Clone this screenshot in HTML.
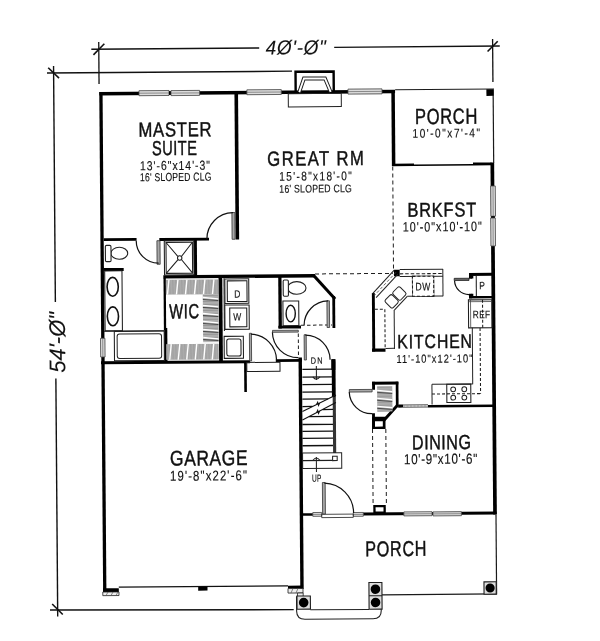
<!DOCTYPE html>
<html><head><meta charset="utf-8"><title>Floor plan</title>
<style>html,body{margin:0;padding:0;background:#fff;width:600px;height:641px;overflow:hidden}
svg{display:block;filter:grayscale(1);font-family:"Liberation Sans",sans-serif}</style></head>
<body><svg width="600" height="641" viewBox="0 0 600 641"><rect width="600" height="641" fill="#fff"/><g transform="rotate(-0.4412 300 320)" font-family="Liberation Sans, sans-serif"><g transform="translate(2.09 -0.96)"><line x1="91.3" y1="48.6" x2="259.2" y2="48.6" stroke="#111" stroke-width="1.4" stroke-linecap="butt"/></g><g transform="translate(2.10 0.90)"><line x1="334.2" y1="46.7" x2="499.75" y2="46.7" stroke="#111" stroke-width="1.4" stroke-linecap="butt"/></g><g transform="translate(1.98 -1.55)"><line x1="98.9" y1="42" x2="98.9" y2="84" stroke="#111" stroke-width="1.3" stroke-linecap="butt"/></g><g transform="translate(2.00 1.48)"><line x1="492.75" y1="39" x2="492.75" y2="82" stroke="#111" stroke-width="1.3" stroke-linecap="butt"/></g><g transform="translate(2.08 -1.55)"><line x1="93.4" y1="54.8" x2="104.4" y2="43.8" stroke="#111" stroke-width="1.6" stroke-linecap="butt"/></g><g transform="translate(2.11 1.48)"><line x1="487.5" y1="51.5" x2="497.75" y2="41.25" stroke="#111" stroke-width="1.6" stroke-linecap="butt"/></g><g transform="translate(2.10 -0.03)"><g transform="translate(265.8 54.2) scale(0.95 1)"><text x="0" y="0" font-size="19.91" font-weight="normal" font-style="italic" textLength="63.16" lengthAdjust="spacing" fill="#111" stroke="#111" stroke-width="0.1">4&#216;'-&#216;"</text></g></g><g transform="translate(1.91 -1.00)"><line x1="47" y1="72.1" x2="292" y2="72.1" stroke="#111" stroke-width="1.4" stroke-linecap="butt"/></g><g transform="translate(1.05 -1.89)"><line x1="54.47" y1="66" x2="54.47" y2="302" stroke="#111" stroke-width="1.4" stroke-linecap="butt"/></g><g transform="translate(-1.37 -1.87)"><line x1="56.8" y1="378.4" x2="56.8" y2="616.5" stroke="#111" stroke-width="1.4" stroke-linecap="butt"/></g><g transform="translate(1.90 -1.90)"><line x1="48.25" y1="67.75" x2="59" y2="78.25" stroke="#111" stroke-width="1.6" stroke-linecap="butt"/></g><g transform="translate(-2.23 -1.87)"><line x1="52.25" y1="604" x2="62.75" y2="614.5" stroke="#111" stroke-width="1.6" stroke-linecap="butt"/></g><g transform="translate(-2.23 -0.99)"><line x1="50" y1="609" x2="293.7" y2="610.6" stroke="#111" stroke-width="1.4" stroke-linecap="butt"/></g><g transform="translate(-0.17 -1.87)"><text transform="translate(65 372.8) rotate(-90)" x="0" y="0" font-size="22.53" font-style="italic" textLength="60.8" lengthAdjust="spacingAndGlyphs" fill="#111" stroke="#111" stroke-width="0.1">54'-&#216;"</text></g><g transform="translate(1.75 -0.41)"><rect x="99.4" y="90.8" width="295.7" height="3.6" fill="#000"/></g><g transform="translate(-0.17 -1.52)"><rect x="101.2" y="92" width="3.3" height="500" fill="#000"/></g><g transform="translate(1.19 -0.49)"><rect x="235" y="92" width="3.6" height="147.5" fill="#000"/></g><g transform="translate(0.62 -1.38)"><rect x="103.7" y="238" width="32.9" height="2.8" fill="#000"/></g><g transform="translate(0.62 -0.89)"><rect x="159.3" y="237.9" width="49.7" height="2.8" fill="#000"/></g><g transform="translate(0.48 -0.81)"><rect x="193.9" y="238" width="3.1" height="38.5" fill="#000"/></g><g transform="translate(0.34 -0.47)"><rect x="163.3" y="274.6" width="151.7" height="3.4" fill="#000"/></g><g transform="translate(0.25 0.19)"><line x1="314.5" y1="276.2" x2="334" y2="298" stroke="#000" stroke-width="3" stroke-linecap="square"/></g><g transform="translate(0.06 0.26)"><rect x="332.4" y="296" width="2.8" height="32" fill="#000"/></g><g transform="translate(0.14 -0.15)"><rect x="278.4" y="275.5" width="3.3" height="53" fill="#000"/></g><g transform="translate(-0.05 -0.08)"><rect x="278.4" y="325.7" width="22.6" height="2.8" fill="#000"/></g><g transform="translate(0.12 -1.04)"><rect x="163.7" y="278" width="2.3" height="52" fill="#000"/></g><g transform="translate(-0.19 -1.03)"><rect x="164.3" y="328" width="3.1" height="34" fill="#000"/></g><g transform="translate(0.00 -0.61)"><rect x="218.8" y="277" width="3.8" height="85" fill="#000"/></g><g transform="translate(-0.33 -0.96)"><rect x="101" y="360.8" width="149" height="2.9" fill="#000"/></g><g transform="translate(-0.31 -0.09)"><rect x="275.8" y="359.2" width="26.2" height="2.6" fill="#000"/></g><g transform="translate(-0.44 -0.42)"><rect x="244.2" y="361.5" width="2.6" height="30.5" fill="#000"/></g><g transform="translate(-1.18 0.01)"><rect x="299.4" y="357.5" width="3.4" height="231.5" fill="#000"/></g><g transform="translate(-2.08 -1.46)"><rect x="103" y="588.2" width="15.8" height="3.8" fill="#000"/></g><g transform="translate(-2.06 -0.03)"><rect x="288" y="585.6" width="15" height="2.9" fill="#000"/></g><g transform="translate(-0.34 0.26)"><rect x="331.3" y="359.2" width="4" height="10.8" fill="#000"/></g><g transform="translate(1.48 0.72)"><rect x="391.6" y="90" width="3.5" height="76" fill="#000"/></g><g transform="translate(1.19 0.80)"><rect x="392.6" y="163.6" width="21.4" height="2.6" fill="#000"/></g><g transform="translate(1.19 1.10)"><rect x="414" y="164.2" width="59" height="1.5" fill="#000"/></g><g transform="translate(1.20 1.40)"><rect x="473" y="162.5" width="18.5" height="2.9" fill="#000"/></g><g transform="translate(-0.14 1.49)"><rect x="491.8" y="162.5" width="3.7" height="352" fill="#000"/></g><g transform="translate(0.35 1.39)"><rect x="469" y="272.9" width="23.5" height="2.9" fill="#000"/></g><g transform="translate(0.34 1.31)"><rect x="469" y="272.9" width="3" height="5.9" fill="#000"/></g><g transform="translate(0.33 1.33)"><rect x="471.5" y="275.5" width="1.8" height="2.9" fill="#000"/></g><g transform="translate(0.18 1.31)"><rect x="469" y="293.8" width="3" height="4.5" fill="#000"/></g><g transform="translate(0.19 1.33)"><rect x="471.5" y="293.8" width="1.8" height="2.5" fill="#000"/></g><g transform="translate(0.18 1.39)"><rect x="469" y="296" width="23.5" height="2.3" fill="#000"/></g><g transform="translate(-0.02 0.57)"><rect x="372.1" y="293" width="2.9" height="58.5" fill="#000"/></g><g transform="translate(-0.23 0.61)"><rect x="372" y="348.5" width="13.5" height="3.3" fill="#000"/></g><g transform="translate(0.36 0.75)"><rect x="394" y="269.8" width="5.7" height="6.4" fill="#000"/></g><g transform="translate(-0.49 0.66)"><rect x="372.1" y="381.7" width="26.2" height="2.9" fill="#000"/></g><g transform="translate(-0.57 0.75)"><rect x="395.8" y="381.7" width="2.7" height="25.6" fill="#000"/></g><g transform="translate(-0.51 0.57)"><rect x="372.1" y="381.7" width="2.9" height="8.1" fill="#000"/></g><g transform="translate(-0.78 0.57)"><rect x="372.1" y="413.2" width="2.9" height="15.8" fill="#000"/></g><g transform="translate(-0.71 0.70)"><line x1="397" y1="405.8" x2="384.5" y2="419.5" stroke="#000" stroke-width="3" stroke-linecap="square"/></g><g transform="translate(-0.76 0.62)"><rect x="375" y="416.7" width="10.5" height="2.9" fill="#000"/></g><g transform="translate(-0.79 0.61)"><rect x="372.1" y="417" width="13.4" height="12" fill="#000"/></g><g transform="translate(-0.80 0.61)"><rect x="375" y="421.3" width="7.8" height="5.3" fill="#fff"/></g><g transform="translate(-0.66 0.78)"><rect x="398.3" y="404.4" width="4.7" height="3.2" fill="#000"/></g><g transform="translate(-0.66 1.24)"><rect x="428" y="404.7" width="67" height="2.6" fill="#000"/></g><g transform="translate(-0.65 0.89)"><line x1="403" y1="404.9" x2="428" y2="404.9" stroke="#1e1e1e" stroke-width="0.8" stroke-linecap="butt"/></g><g transform="translate(-0.67 0.89)"><line x1="403" y1="407.1" x2="428" y2="407.1" stroke="#1e1e1e" stroke-width="0.8" stroke-linecap="butt"/></g><g transform="translate(-0.66 0.89)"><line x1="403" y1="406" x2="428" y2="406" stroke="#777" stroke-width="0.6" stroke-linecap="butt" stroke-dasharray="2 1.5"/></g><g transform="translate(-1.49 1.00)"><rect x="363" y="511.9" width="133.5" height="3.1" fill="#000"/></g><g transform="translate(-1.50 0.06)"><rect x="302.5" y="513.2" width="10.5" height="2.6" fill="#000"/></g><g transform="translate(-1.46 0.61)"><rect x="373.3" y="505" width="12.5" height="8" fill="#000"/></g><g transform="translate(-1.46 0.61)"><rect x="375.6" y="507.2" width="7.9" height="4.3" fill="#fff"/></g><g transform="translate(1.75 -1.12)"><rect x="139" y="90.6" width="30" height="5" fill="#dcdcdc" stroke="#444" stroke-width="0.8"/><line x1="139" y1="93.1" x2="169" y2="93.1" stroke="#666" stroke-width="0.7"/></g><g transform="translate(1.75 -1.00)"><rect x="169" y="91.2" width="2" height="3.5" fill="#000"/></g><g transform="translate(1.75 -0.88)"><rect x="171" y="90.5" width="28.6" height="5" fill="#dcdcdc" stroke="#444" stroke-width="0.8"/><line x1="171" y1="93" x2="199.6" y2="93" stroke="#666" stroke-width="0.7"/></g><g transform="translate(1.75 -0.28)"><rect x="246.9" y="89.7" width="34.4" height="4.9" fill="#dcdcdc" stroke="#444" stroke-width="0.8"/><line x1="246.9" y1="92.15" x2="281.3" y2="92.15" stroke="#666" stroke-width="0.7"/></g><g transform="translate(1.76 0.50)"><rect x="348" y="89" width="34" height="5" fill="#dcdcdc" stroke="#444" stroke-width="0.8"/><line x1="348" y1="91.5" x2="382" y2="91.5" stroke="#666" stroke-width="0.7"/></g><g transform="translate(0.92 1.49)"><rect x="490.8" y="186" width="4.6" height="30.2" fill="#dcdcdc" stroke="#444" stroke-width="0.8"/><line x1="493.1" y1="186" x2="493.1" y2="216.2" stroke="#666" stroke-width="0.7"/></g><g transform="translate(0.79 1.49)"><rect x="491.4" y="216.2" width="3.5" height="1.8" fill="#000"/></g><g transform="translate(0.68 1.49)"><rect x="490.8" y="218" width="4.6" height="28" fill="#dcdcdc" stroke="#444" stroke-width="0.8"/><line x1="493.1" y1="218" x2="493.1" y2="246" stroke="#666" stroke-width="0.7"/></g><g transform="translate(-0.21 -1.52)"><rect x="100.6" y="338.3" width="4.4" height="18.7" fill="#dcdcdc" stroke="#444" stroke-width="0.8"/><line x1="102.8" y1="338.3" x2="102.8" y2="357" stroke="#666" stroke-width="0.7"/></g><g transform="translate(-1.49 0.91)"><rect x="403.9" y="511.8" width="28.1" height="4" fill="#dcdcdc" stroke="#444" stroke-width="0.8"/><line x1="403.9" y1="513.8" x2="432" y2="513.8" stroke="#666" stroke-width="0.7"/></g><g transform="translate(-1.49 1.13)"><rect x="433" y="511.8" width="28.4" height="4" fill="#dcdcdc" stroke="#444" stroke-width="0.8"/><line x1="433" y1="513.8" x2="461.4" y2="513.8" stroke="#666" stroke-width="0.7"/></g><g transform="translate(-1.50 0.13)"><rect x="312.8" y="512.5" width="8.9" height="3.8" fill="#dcdcdc" stroke="#444" stroke-width="0.8"/><line x1="312.8" y1="514.4" x2="321.7" y2="514.4" stroke="#666" stroke-width="0.7"/></g><g transform="translate(-1.50 0.45)"><rect x="353.3" y="512.5" width="10" height="3.8" fill="#dcdcdc" stroke="#444" stroke-width="0.8"/><line x1="353.3" y1="514.4" x2="363.3" y2="514.4" stroke="#666" stroke-width="0.7"/></g><g transform="translate(-1.51 0.29)"><rect x="321.7" y="514.2" width="31.6" height="3.3" rx="0" fill="none" stroke="#1e1e1e" stroke-width="0.8"/></g><g transform="translate(1.83 0.11)"><path d="M 295.6 93 V 71.6 H 333.7 V 93" fill="none" stroke="#000" stroke-width="2.4"/></g><g transform="translate(1.81 0.12)"><path d="M 299.2 92 L 304 78.4 L 325 78.4 L 330.6 92" fill="none" stroke="#1e1e1e" stroke-width="3.8"/></g><g transform="translate(1.81 0.12)"><path d="M 299.2 92 L 304 78.4 L 325 78.4 L 330.6 92" fill="none" stroke="#fff" stroke-width="1.8"/></g><g transform="translate(1.69 0.11)"><rect x="288.3" y="93.5" width="53" height="13.2" rx="0" fill="none" stroke="#222" stroke-width="1"/></g><g transform="translate(1.78 1.11)"><line x1="395.1" y1="89.4" x2="494" y2="89.4" stroke="#1a1a1a" stroke-width="1.2" stroke-linecap="butt"/></g><g transform="translate(1.49 1.49)"><line x1="493.4" y1="89.5" x2="493.4" y2="163" stroke="#1a1a1a" stroke-width="1.2" stroke-linecap="butt"/></g><g transform="translate(1.75 1.46)"><rect x="486.4" y="89.2" width="7.2" height="6.7" fill="#000"/></g><g transform="translate(0.79 0.72)"><line x1="393.1" y1="166.5" x2="393.1" y2="269.5" stroke="#1e1e1e" stroke-width="1" stroke-linecap="butt" stroke-dasharray="4 3"/></g><g transform="translate(0.36 0.42)"><line x1="315" y1="273.65" x2="393" y2="273.65" stroke="#1e1e1e" stroke-width="1" stroke-linecap="butt" stroke-dasharray="4 3"/></g><g transform="translate(-0.04 0.13)"><line x1="301" y1="325.2" x2="332" y2="325" stroke="#1e1e1e" stroke-width="1" stroke-linecap="butt" stroke-dasharray="3.5 2.5"/></g><g transform="translate(-0.20 -0.01)"><line x1="298.4" y1="333.5" x2="298.4" y2="357.5" stroke="#1e1e1e" stroke-width="1" stroke-linecap="butt" stroke-dasharray="3.5 2.5"/></g><g transform="translate(-1.13 0.56)"><line x1="372.8" y1="429" x2="372.8" y2="505" stroke="#1e1e1e" stroke-width="1" stroke-linecap="butt" stroke-dasharray="4 3"/></g><g transform="translate(-1.13 0.66)"><line x1="386.1" y1="429" x2="386.1" y2="505" stroke="#1e1e1e" stroke-width="1" stroke-linecap="butt" stroke-dasharray="4 3"/></g><g transform="translate(0.52 -1.09)"><rect x="157" y="240.7" width="3.1" height="23.6" rx="0" fill="#a8a8a8" stroke="#333" stroke-width="0.8"/></g><g transform="translate(0.52 -1.17)"><path d="M 136.3 240.7 A 22.3 22.3 0 0 0 158.6 263.2" fill="none" stroke="#111" stroke-width="1.2"/></g><g transform="translate(0.72 -0.51)"><rect x="232" y="212.5" width="3" height="26.8" rx="0" fill="#a8a8a8" stroke="#333" stroke-width="0.8"/></g><g transform="translate(0.72 -0.62)"><path d="M 233 212.7 A 26.3 26.3 0 0 0 206.8 239" fill="none" stroke="#111" stroke-width="1.2"/></g><g transform="translate(-0.21 -0.38)"><rect x="249.5" y="333.3" width="2" height="27.7" rx="0" fill="#a8a8a8" stroke="#333" stroke-width="0.8"/></g><g transform="translate(-0.21 -0.28)"><path d="M 251 334 A 26.5 26.5 0 0 1 276.5 360.5" fill="none" stroke="#111" stroke-width="1.2"/></g><g transform="translate(-0.09 -0.11)"><rect x="272.5" y="330.3" width="25.8" height="1.9" rx="0" fill="#a8a8a8" stroke="#333" stroke-width="0.8"/></g><g transform="translate(-0.19 -0.11)"><path d="M 272.5 332.2 A 25.8 25.8 0 0 0 298.3 357.8" fill="none" stroke="#111" stroke-width="1.2"/></g><g transform="translate(-0.21 0.04)"><rect x="304.2" y="334.7" width="2.1" height="25.3" rx="0" fill="#a8a8a8" stroke="#333" stroke-width="0.8"/></g><g transform="translate(-0.21 0.14)"><path d="M 305.5 335 A 24.8 24.8 0 0 1 330 359.8" fill="none" stroke="#111" stroke-width="1.2"/></g><g transform="translate(0.05 0.22)"><rect x="327" y="300.8" width="2.5" height="26.7" rx="0" fill="#a8a8a8" stroke="#333" stroke-width="0.8"/></g><g transform="translate(0.05 0.12)"><path d="M 328 301 A 24.5 24.5 0 0 0 304 325.2" fill="none" stroke="#111" stroke-width="1.2"/></g><g transform="translate(0.31 1.24)"><rect x="454.2" y="278.3" width="14.8" height="2.2" rx="0" fill="#666" stroke="#222" stroke-width="0.8"/></g><g transform="translate(0.25 1.25)"><path d="M 454.6 280.6 A 14.4 14.4 0 0 0 469.2 294.6" fill="none" stroke="#111" stroke-width="1.2"/></g><g transform="translate(-0.54 0.47)"><rect x="349.3" y="389.5" width="22.8" height="2.5" rx="0" fill="#a8a8a8" stroke="#333" stroke-width="0.8"/></g><g transform="translate(-0.64 0.47)"><path d="M 349.3 392 A 22.5 22.5 0 0 0 372.1 413.8" fill="none" stroke="#111" stroke-width="1.2"/></g><g transform="translate(-1.37 0.18)"><rect x="322.5" y="482.5" width="2.8" height="31.5" rx="0" fill="#a8a8a8" stroke="#333" stroke-width="0.8"/></g><g transform="translate(-1.37 0.30)"><path d="M 324.5 483 A 30 30 0 0 1 353.5 513" fill="none" stroke="#111" stroke-width="1.2"/></g><g transform="translate(0.52 -1.42)"><ellipse cx="119.3" cy="253.3" rx="8.4" ry="6.0" fill="#fff" stroke="#222" stroke-width="1.1"/><rect x="105.4" y="245.3" width="5.6" height="16.3" rx="1.2" fill="#fff" stroke="#222" stroke-width="1.1"/></g><g transform="translate(0.39 -1.43)"><line x1="103.7" y1="269.5" x2="123.7" y2="269.5" stroke="#000" stroke-width="3" stroke-linecap="butt"/></g><g transform="translate(0.15 -1.44)"><rect x="104.9" y="270.9" width="17.3" height="59.9" rx="0" fill="none" stroke="#1e1e1e" stroke-width="1.05"/></g><g transform="translate(0.15 -1.44)"><ellipse cx="112.8" cy="286.8" rx="5.6" ry="9.4" fill="none" stroke="#111" stroke-width="1.6"/><ellipse cx="112.8" cy="316.3" rx="5.6" ry="9.4" fill="none" stroke="#111" stroke-width="1.6"/></g><g transform="translate(-0.08 -1.28)"><line x1="104" y1="331" x2="164.3" y2="331" stroke="#1e1e1e" stroke-width="1.05" stroke-linecap="butt"/></g><g transform="translate(-0.20 -1.24)"><rect x="114.4" y="331.2" width="49.9" height="29.4" rx="0" fill="none" stroke="#1e1e1e" stroke-width="1.05"/></g><g transform="translate(-0.20 -1.24)"><rect x="117.2" y="333.8" width="44.4" height="24.6" rx="2.5" fill="none" stroke="#222" stroke-width="1"/></g><g transform="translate(0.48 -0.93)"><rect x="164.4" y="240.8" width="29.5" height="34.1" rx="0" fill="none" stroke="#1e1e1e" stroke-width="1.05"/></g><g transform="translate(0.48 -0.93)"><rect x="166.1" y="242.4" width="26.4" height="30.9" rx="0" fill="none" stroke="#1e1e1e" stroke-width="1.05"/></g><g transform="translate(0.48 -0.93)"><path d="M166.1 242.4 L177.8 256.3 M181.6 259.8 L192.5 273.3 M192.5 242.4 L181.6 256.3 M177.8 259.8 L166.1 273.3" stroke="#1e1e1e" stroke-width="1.05" fill="none"/><circle cx="179.7" cy="258.0" r="2.2" fill="none" stroke="#1e1e1e" stroke-width="1.05"/></g><g transform="translate(0.25 -0.05)"><ellipse cx="296.8" cy="288.0" rx="9.2" ry="6.3" fill="#fff" stroke="#222" stroke-width="1.1"/><rect x="283.2" y="280.0" width="5.2" height="16.2" rx="1.2" fill="#fff" stroke="#222" stroke-width="1.1"/></g><g transform="translate(0.05 -0.07)"><rect x="283" y="301" width="15.8" height="24.6" rx="0" fill="none" stroke="#1e1e1e" stroke-width="1.05"/></g><g transform="translate(0.05 -0.07)"><ellipse cx="290.7" cy="313.6" rx="4.6" ry="8.3" fill="none" stroke="#111" stroke-width="1.4"/></g><g transform="translate(0.12 -0.58)"><line x1="224.2" y1="278" x2="224.2" y2="331" stroke="#1e1e1e" stroke-width="1.05" stroke-linecap="butt"/></g><g transform="translate(0.22 -0.49)"><rect x="224.9" y="278.9" width="23.9" height="24.5" rx="0" fill="none" stroke="#1e1e1e" stroke-width="1.05"/></g><g transform="translate(0.22 -0.48)"><rect x="227.3" y="280.8" width="19.7" height="20.7" rx="0" fill="none" stroke="#1e1e1e" stroke-width="1.05"/></g><g transform="translate(0.20 -0.48)"><g transform="translate(234.3 297.8) scale(0.8 1)"><text x="0" y="0" font-size="10.61" font-weight="normal" font-style="normal" textLength="9.38" lengthAdjust="spacing" fill="#111" stroke="#111" stroke-width="0.15">D</text></g></g><g transform="translate(0.02 -0.48)"><rect x="224.9" y="305" width="24.3" height="24.3" rx="0" fill="none" stroke="#1e1e1e" stroke-width="1.05"/></g><g transform="translate(0.02 -0.48)"><rect x="229.8" y="308" width="17" height="18.8" rx="0" fill="none" stroke="#1e1e1e" stroke-width="1.05"/></g><g transform="translate(0.02 -0.48)"><g transform="translate(233.3 320.5) scale(0.8 1)"><text x="0" y="0" font-size="10.61" font-weight="normal" font-style="normal" textLength="10.62" lengthAdjust="spacing" fill="#111" stroke="#111" stroke-width="0.15">W</text></g></g><g transform="translate(-0.21 -0.51)"><rect x="224.2" y="336.3" width="19.2" height="22" rx="0" fill="none" stroke="#1e1e1e" stroke-width="1.05"/></g><g transform="translate(-0.21 -0.51)"><rect x="226.8" y="339" width="14.2" height="17" rx="2" fill="none" stroke="#1e1e1e" stroke-width="1.05"/></g><g transform="translate(-0.36 -0.28)"><rect x="246.8" y="362.3" width="33.2" height="9.1" rx="0" fill="none" stroke="#1e1e1e" stroke-width="1"/></g><g transform="translate(0.25 -0.83)"><rect x="166.2" y="279.6" width="52.2" height="14.8" fill="#c4c4c4"/><line x1="167" y1="279.6" x2="167" y2="294.4" stroke="#5e5e5e" stroke-width="0.6"/><line x1="168.5" y1="279.6" x2="168.5" y2="294.4" stroke="#999" stroke-width="0.6"/><line x1="170" y1="279.6" x2="170" y2="294.4" stroke="#5e5e5e" stroke-width="0.6"/><line x1="171.5" y1="279.6" x2="171.5" y2="294.4" stroke="#999" stroke-width="0.6"/><line x1="173" y1="279.6" x2="173" y2="294.4" stroke="#5e5e5e" stroke-width="0.6"/><line x1="174.5" y1="279.6" x2="174.5" y2="294.4" stroke="#999" stroke-width="0.6"/><line x1="176" y1="279.6" x2="176" y2="294.4" stroke="#5e5e5e" stroke-width="0.6"/><line x1="177.5" y1="279.6" x2="177.5" y2="294.4" stroke="#999" stroke-width="0.6"/><line x1="179" y1="279.6" x2="179" y2="294.4" stroke="#5e5e5e" stroke-width="0.6"/><line x1="180.5" y1="279.6" x2="180.5" y2="294.4" stroke="#999" stroke-width="0.6"/><line x1="182" y1="279.6" x2="182" y2="294.4" stroke="#5e5e5e" stroke-width="0.6"/><line x1="183.5" y1="279.6" x2="183.5" y2="294.4" stroke="#999" stroke-width="0.6"/><line x1="185" y1="279.6" x2="185" y2="294.4" stroke="#5e5e5e" stroke-width="0.6"/><line x1="186.5" y1="279.6" x2="186.5" y2="294.4" stroke="#999" stroke-width="0.6"/><line x1="188" y1="279.6" x2="188" y2="294.4" stroke="#5e5e5e" stroke-width="0.6"/><line x1="189.5" y1="279.6" x2="189.5" y2="294.4" stroke="#999" stroke-width="0.6"/><line x1="191" y1="279.6" x2="191" y2="294.4" stroke="#5e5e5e" stroke-width="0.6"/><line x1="192.5" y1="279.6" x2="192.5" y2="294.4" stroke="#999" stroke-width="0.6"/><line x1="194" y1="279.6" x2="194" y2="294.4" stroke="#5e5e5e" stroke-width="0.6"/><line x1="195.5" y1="279.6" x2="195.5" y2="294.4" stroke="#999" stroke-width="0.6"/><line x1="197" y1="279.6" x2="197" y2="294.4" stroke="#5e5e5e" stroke-width="0.6"/><line x1="198.5" y1="279.6" x2="198.5" y2="294.4" stroke="#999" stroke-width="0.6"/><line x1="200" y1="279.6" x2="200" y2="294.4" stroke="#5e5e5e" stroke-width="0.6"/><line x1="201.5" y1="279.6" x2="201.5" y2="294.4" stroke="#999" stroke-width="0.6"/><line x1="203" y1="279.6" x2="203" y2="294.4" stroke="#5e5e5e" stroke-width="0.6"/><line x1="204.5" y1="279.6" x2="204.5" y2="294.4" stroke="#999" stroke-width="0.6"/><line x1="206" y1="279.6" x2="206" y2="294.4" stroke="#5e5e5e" stroke-width="0.6"/><line x1="207.5" y1="279.6" x2="207.5" y2="294.4" stroke="#999" stroke-width="0.6"/><line x1="209" y1="279.6" x2="209" y2="294.4" stroke="#5e5e5e" stroke-width="0.6"/><line x1="210.5" y1="279.6" x2="210.5" y2="294.4" stroke="#999" stroke-width="0.6"/><line x1="212" y1="279.6" x2="212" y2="294.4" stroke="#5e5e5e" stroke-width="0.6"/><line x1="213.5" y1="279.6" x2="213.5" y2="294.4" stroke="#999" stroke-width="0.6"/><line x1="215" y1="279.6" x2="215" y2="294.4" stroke="#5e5e5e" stroke-width="0.6"/><line x1="216.5" y1="279.6" x2="216.5" y2="294.4" stroke="#999" stroke-width="0.6"/><line x1="218" y1="279.6" x2="218" y2="294.4" stroke="#5e5e5e" stroke-width="0.6"/><line x1="167.4" y1="294.4" x2="169" y2="279.6" stroke="#fff" stroke-width="1.4"/><line x1="176.4" y1="294.4" x2="178" y2="279.6" stroke="#fff" stroke-width="1.4"/><line x1="185.4" y1="294.4" x2="187" y2="279.6" stroke="#fff" stroke-width="1.4"/><line x1="194.4" y1="294.4" x2="196" y2="279.6" stroke="#fff" stroke-width="1.4"/><line x1="203.4" y1="294.4" x2="205" y2="279.6" stroke="#fff" stroke-width="1.4"/><line x1="212.4" y1="294.4" x2="214" y2="279.6" stroke="#fff" stroke-width="1.4"/></g><g transform="translate(0.01 -0.69)"><rect x="203" y="294.4" width="15.4" height="47.4" fill="#c4c4c4"/><line x1="203" y1="295.2" x2="218.4" y2="295.2" stroke="#5e5e5e" stroke-width="0.6"/><line x1="203" y1="296.7" x2="218.4" y2="296.7" stroke="#999" stroke-width="0.6"/><line x1="203" y1="298.2" x2="218.4" y2="298.2" stroke="#5e5e5e" stroke-width="0.6"/><line x1="203" y1="299.7" x2="218.4" y2="299.7" stroke="#999" stroke-width="0.6"/><line x1="203" y1="301.2" x2="218.4" y2="301.2" stroke="#5e5e5e" stroke-width="0.6"/><line x1="203" y1="302.7" x2="218.4" y2="302.7" stroke="#999" stroke-width="0.6"/><line x1="203" y1="304.2" x2="218.4" y2="304.2" stroke="#5e5e5e" stroke-width="0.6"/><line x1="203" y1="305.7" x2="218.4" y2="305.7" stroke="#999" stroke-width="0.6"/><line x1="203" y1="307.2" x2="218.4" y2="307.2" stroke="#5e5e5e" stroke-width="0.6"/><line x1="203" y1="308.7" x2="218.4" y2="308.7" stroke="#999" stroke-width="0.6"/><line x1="203" y1="310.2" x2="218.4" y2="310.2" stroke="#5e5e5e" stroke-width="0.6"/><line x1="203" y1="311.7" x2="218.4" y2="311.7" stroke="#999" stroke-width="0.6"/><line x1="203" y1="313.2" x2="218.4" y2="313.2" stroke="#5e5e5e" stroke-width="0.6"/><line x1="203" y1="314.7" x2="218.4" y2="314.7" stroke="#999" stroke-width="0.6"/><line x1="203" y1="316.2" x2="218.4" y2="316.2" stroke="#5e5e5e" stroke-width="0.6"/><line x1="203" y1="317.7" x2="218.4" y2="317.7" stroke="#999" stroke-width="0.6"/><line x1="203" y1="319.2" x2="218.4" y2="319.2" stroke="#5e5e5e" stroke-width="0.6"/><line x1="203" y1="320.7" x2="218.4" y2="320.7" stroke="#999" stroke-width="0.6"/><line x1="203" y1="322.2" x2="218.4" y2="322.2" stroke="#5e5e5e" stroke-width="0.6"/><line x1="203" y1="323.7" x2="218.4" y2="323.7" stroke="#999" stroke-width="0.6"/><line x1="203" y1="325.2" x2="218.4" y2="325.2" stroke="#5e5e5e" stroke-width="0.6"/><line x1="203" y1="326.7" x2="218.4" y2="326.7" stroke="#999" stroke-width="0.6"/><line x1="203" y1="328.2" x2="218.4" y2="328.2" stroke="#5e5e5e" stroke-width="0.6"/><line x1="203" y1="329.7" x2="218.4" y2="329.7" stroke="#999" stroke-width="0.6"/><line x1="203" y1="331.2" x2="218.4" y2="331.2" stroke="#5e5e5e" stroke-width="0.6"/><line x1="203" y1="332.7" x2="218.4" y2="332.7" stroke="#999" stroke-width="0.6"/><line x1="203" y1="334.2" x2="218.4" y2="334.2" stroke="#5e5e5e" stroke-width="0.6"/><line x1="203" y1="335.7" x2="218.4" y2="335.7" stroke="#999" stroke-width="0.6"/><line x1="203" y1="337.2" x2="218.4" y2="337.2" stroke="#5e5e5e" stroke-width="0.6"/><line x1="203" y1="338.7" x2="218.4" y2="338.7" stroke="#999" stroke-width="0.6"/><line x1="203" y1="340.2" x2="218.4" y2="340.2" stroke="#5e5e5e" stroke-width="0.6"/><line x1="203" y1="341.7" x2="218.4" y2="341.7" stroke="#999" stroke-width="0.6"/><line x1="203" y1="297.4" x2="218.4" y2="298.9" stroke="#fff" stroke-width="1.4"/><line x1="203" y1="299.4" x2="218.4" y2="300.6" stroke="#222" stroke-width="0.7"/><line x1="203" y1="305.4" x2="218.4" y2="306.9" stroke="#fff" stroke-width="1.4"/><line x1="203" y1="307.4" x2="218.4" y2="308.6" stroke="#222" stroke-width="0.7"/><line x1="203" y1="313.4" x2="218.4" y2="314.9" stroke="#fff" stroke-width="1.4"/><line x1="203" y1="315.4" x2="218.4" y2="316.6" stroke="#222" stroke-width="0.7"/><line x1="203" y1="321.4" x2="218.4" y2="322.9" stroke="#fff" stroke-width="1.4"/><line x1="203" y1="323.4" x2="218.4" y2="324.6" stroke="#222" stroke-width="0.7"/><line x1="203" y1="329.4" x2="218.4" y2="330.9" stroke="#fff" stroke-width="1.4"/><line x1="203" y1="331.4" x2="218.4" y2="332.6" stroke="#222" stroke-width="0.7"/><line x1="203" y1="337.4" x2="218.4" y2="338.9" stroke="#fff" stroke-width="1.4"/><line x1="203" y1="339.4" x2="218.4" y2="340.6" stroke="#222" stroke-width="0.7"/></g><g transform="translate(-0.24 -0.83)"><rect x="166.2" y="344" width="52.2" height="15.6" fill="#c4c4c4"/><line x1="167" y1="344" x2="167" y2="359.6" stroke="#5e5e5e" stroke-width="0.6"/><line x1="168.5" y1="344" x2="168.5" y2="359.6" stroke="#999" stroke-width="0.6"/><line x1="170" y1="344" x2="170" y2="359.6" stroke="#5e5e5e" stroke-width="0.6"/><line x1="171.5" y1="344" x2="171.5" y2="359.6" stroke="#999" stroke-width="0.6"/><line x1="173" y1="344" x2="173" y2="359.6" stroke="#5e5e5e" stroke-width="0.6"/><line x1="174.5" y1="344" x2="174.5" y2="359.6" stroke="#999" stroke-width="0.6"/><line x1="176" y1="344" x2="176" y2="359.6" stroke="#5e5e5e" stroke-width="0.6"/><line x1="177.5" y1="344" x2="177.5" y2="359.6" stroke="#999" stroke-width="0.6"/><line x1="179" y1="344" x2="179" y2="359.6" stroke="#5e5e5e" stroke-width="0.6"/><line x1="180.5" y1="344" x2="180.5" y2="359.6" stroke="#999" stroke-width="0.6"/><line x1="182" y1="344" x2="182" y2="359.6" stroke="#5e5e5e" stroke-width="0.6"/><line x1="183.5" y1="344" x2="183.5" y2="359.6" stroke="#999" stroke-width="0.6"/><line x1="185" y1="344" x2="185" y2="359.6" stroke="#5e5e5e" stroke-width="0.6"/><line x1="186.5" y1="344" x2="186.5" y2="359.6" stroke="#999" stroke-width="0.6"/><line x1="188" y1="344" x2="188" y2="359.6" stroke="#5e5e5e" stroke-width="0.6"/><line x1="189.5" y1="344" x2="189.5" y2="359.6" stroke="#999" stroke-width="0.6"/><line x1="191" y1="344" x2="191" y2="359.6" stroke="#5e5e5e" stroke-width="0.6"/><line x1="192.5" y1="344" x2="192.5" y2="359.6" stroke="#999" stroke-width="0.6"/><line x1="194" y1="344" x2="194" y2="359.6" stroke="#5e5e5e" stroke-width="0.6"/><line x1="195.5" y1="344" x2="195.5" y2="359.6" stroke="#999" stroke-width="0.6"/><line x1="197" y1="344" x2="197" y2="359.6" stroke="#5e5e5e" stroke-width="0.6"/><line x1="198.5" y1="344" x2="198.5" y2="359.6" stroke="#999" stroke-width="0.6"/><line x1="200" y1="344" x2="200" y2="359.6" stroke="#5e5e5e" stroke-width="0.6"/><line x1="201.5" y1="344" x2="201.5" y2="359.6" stroke="#999" stroke-width="0.6"/><line x1="203" y1="344" x2="203" y2="359.6" stroke="#5e5e5e" stroke-width="0.6"/><line x1="204.5" y1="344" x2="204.5" y2="359.6" stroke="#999" stroke-width="0.6"/><line x1="206" y1="344" x2="206" y2="359.6" stroke="#5e5e5e" stroke-width="0.6"/><line x1="207.5" y1="344" x2="207.5" y2="359.6" stroke="#999" stroke-width="0.6"/><line x1="209" y1="344" x2="209" y2="359.6" stroke="#5e5e5e" stroke-width="0.6"/><line x1="210.5" y1="344" x2="210.5" y2="359.6" stroke="#999" stroke-width="0.6"/><line x1="212" y1="344" x2="212" y2="359.6" stroke="#5e5e5e" stroke-width="0.6"/><line x1="213.5" y1="344" x2="213.5" y2="359.6" stroke="#999" stroke-width="0.6"/><line x1="215" y1="344" x2="215" y2="359.6" stroke="#5e5e5e" stroke-width="0.6"/><line x1="216.5" y1="344" x2="216.5" y2="359.6" stroke="#999" stroke-width="0.6"/><line x1="218" y1="344" x2="218" y2="359.6" stroke="#5e5e5e" stroke-width="0.6"/><line x1="169.7" y1="359.6" x2="171.3" y2="344" stroke="#fff" stroke-width="1.4"/><line x1="178.2" y1="359.6" x2="179.8" y2="344" stroke="#fff" stroke-width="1.4"/><line x1="186.7" y1="359.6" x2="188.3" y2="344" stroke="#fff" stroke-width="1.4"/><line x1="195.2" y1="359.6" x2="196.8" y2="344" stroke="#fff" stroke-width="1.4"/><line x1="203.7" y1="359.6" x2="205.3" y2="344" stroke="#fff" stroke-width="1.4"/><line x1="212.2" y1="359.6" x2="213.8" y2="344" stroke="#fff" stroke-width="1.4"/></g><g transform="translate(-0.61 0.65)"><rect x="377.2" y="386.3" width="15.1" height="25.1" fill="#c4c4c4"/><line x1="377.2" y1="387.1" x2="392.3" y2="387.1" stroke="#5e5e5e" stroke-width="0.6"/><line x1="377.2" y1="388.6" x2="392.3" y2="388.6" stroke="#999" stroke-width="0.6"/><line x1="377.2" y1="390.1" x2="392.3" y2="390.1" stroke="#5e5e5e" stroke-width="0.6"/><line x1="377.2" y1="391.6" x2="392.3" y2="391.6" stroke="#999" stroke-width="0.6"/><line x1="377.2" y1="393.1" x2="392.3" y2="393.1" stroke="#5e5e5e" stroke-width="0.6"/><line x1="377.2" y1="394.6" x2="392.3" y2="394.6" stroke="#999" stroke-width="0.6"/><line x1="377.2" y1="396.1" x2="392.3" y2="396.1" stroke="#5e5e5e" stroke-width="0.6"/><line x1="377.2" y1="397.6" x2="392.3" y2="397.6" stroke="#999" stroke-width="0.6"/><line x1="377.2" y1="399.1" x2="392.3" y2="399.1" stroke="#5e5e5e" stroke-width="0.6"/><line x1="377.2" y1="400.6" x2="392.3" y2="400.6" stroke="#999" stroke-width="0.6"/><line x1="377.2" y1="402.1" x2="392.3" y2="402.1" stroke="#5e5e5e" stroke-width="0.6"/><line x1="377.2" y1="403.6" x2="392.3" y2="403.6" stroke="#999" stroke-width="0.6"/><line x1="377.2" y1="405.1" x2="392.3" y2="405.1" stroke="#5e5e5e" stroke-width="0.6"/><line x1="377.2" y1="406.6" x2="392.3" y2="406.6" stroke="#999" stroke-width="0.6"/><line x1="377.2" y1="408.1" x2="392.3" y2="408.1" stroke="#5e5e5e" stroke-width="0.6"/><line x1="377.2" y1="409.6" x2="392.3" y2="409.6" stroke="#999" stroke-width="0.6"/><line x1="377.2" y1="411.1" x2="392.3" y2="411.1" stroke="#5e5e5e" stroke-width="0.6"/><line x1="377.2" y1="390.3" x2="392.3" y2="391.8" stroke="#fff" stroke-width="1.4"/><line x1="377.2" y1="392.3" x2="392.3" y2="393.5" stroke="#222" stroke-width="0.7"/><line x1="377.2" y1="398.3" x2="392.3" y2="399.8" stroke="#fff" stroke-width="1.4"/><line x1="377.2" y1="400.3" x2="392.3" y2="401.5" stroke="#222" stroke-width="0.7"/><line x1="377.2" y1="406.3" x2="392.3" y2="407.8" stroke="#fff" stroke-width="1.4"/><line x1="377.2" y1="408.3" x2="392.3" y2="409.5" stroke="#222" stroke-width="0.7"/></g><g transform="translate(0.39 0.93)"><line x1="399.7" y1="269.3" x2="443" y2="269.3" stroke="#222" stroke-width="1" stroke-linecap="butt"/></g><g transform="translate(0.36 0.93)"><line x1="399.7" y1="273.7" x2="443" y2="273.7" stroke="#1e1e1e" stroke-width="1.05" stroke-linecap="butt" stroke-dasharray="3.5 2"/></g><g transform="translate(0.34 0.93)"><line x1="399.7" y1="276.3" x2="443" y2="276.3" stroke="#222" stroke-width="1" stroke-linecap="butt"/></g><g transform="translate(0.29 1.10)"><line x1="442.9" y1="269" x2="442.9" y2="296.3" stroke="#222" stroke-width="1" stroke-linecap="butt"/></g><g transform="translate(0.18 0.96)"><line x1="407.5" y1="296.2" x2="443" y2="296.2" stroke="#222" stroke-width="1" stroke-linecap="butt"/></g><g transform="translate(0.26 0.95)"><rect x="412.5" y="276.3" width="21.2" height="19.9" rx="0" fill="none" stroke="#1e1e1e" stroke-width="1.05"/></g><g transform="translate(0.26 0.95)"><rect x="412.5" y="276.3" width="21.2" height="19.9" fill="#fff"/><rect x="412.5" y="276.3" width="21.2" height="19.9" fill="none" stroke="#1e1e1e" stroke-width="1.05" stroke-dasharray="3 2"/></g><g transform="translate(0.26 0.95)"><g transform="translate(415.5 290.5) scale(0.77 1)"><text x="0" y="0" font-size="11.19" font-weight="normal" font-style="normal" textLength="19.42" lengthAdjust="spacing" fill="#111" stroke="#111" stroke-width="0.15">DW</text></g></g><g transform="translate(0.29 0.64)"><line x1="394.3" y1="270.3" x2="372.3" y2="293.8" stroke="#222" stroke-width="1" stroke-linecap="butt"/></g><g transform="translate(0.26 0.67)"><line x1="398" y1="274.3" x2="376" y2="297.5" stroke="#222" stroke-width="1" stroke-linecap="butt"/></g><g transform="translate(0.28 0.66)"><line x1="396.1" y1="272.3" x2="374.1" y2="295.6" stroke="#444" stroke-width="0.8" stroke-linecap="butt" stroke-dasharray="3 2"/></g><g transform="translate(0.17 0.74)"><g transform="translate(395.5 297.4) rotate(-45)"><rect x="-10.5" y="-5.5" width="10" height="11" rx="2" fill="#fff" stroke="#222" stroke-width="1"/><rect x="0.5" y="-5.5" width="10" height="11" rx="2" fill="#fff" stroke="#222" stroke-width="1"/></g></g><g transform="translate(0.13 0.78)"><line x1="407.5" y1="296.2" x2="394.3" y2="310" stroke="#222" stroke-width="1" stroke-linecap="butt"/></g><g transform="translate(-0.07 0.73)"><line x1="394.3" y1="310" x2="394.3" y2="349" stroke="#222" stroke-width="1" stroke-linecap="butt"/></g><g transform="translate(-0.22 0.69)"><line x1="385.5" y1="348.4" x2="394.6" y2="348.4" stroke="#222" stroke-width="1" stroke-linecap="butt"/></g><g transform="translate(-0.07 0.62)"><path d="M375 309.3 H385 V349" fill="none" stroke="#1e1e1e" stroke-width="1.05" stroke-dasharray="3 2"/></g><g transform="translate(0.26 1.36)"><line x1="476.3" y1="276" x2="476.3" y2="296" stroke="#1e1e1e" stroke-width="1.05" stroke-linecap="butt"/></g><g transform="translate(0.26 1.40)"><g transform="translate(479.2 289.3) scale(0.8 1)"><text x="0" y="0" font-size="10.61" font-weight="normal" font-style="normal" textLength="7.5" lengthAdjust="spacing" fill="#111" stroke="#111" stroke-width="0.15">P</text></g></g><g transform="translate(0.05 1.39)"><rect x="468.5" y="299.8" width="23.5" height="28" rx="0" fill="none" stroke="#1e1e1e" stroke-width="1.05"/></g><g transform="translate(0.05 1.31)"><line x1="470.6" y1="300" x2="470.6" y2="327.6" stroke="#444" stroke-width="0.8" stroke-linecap="butt"/></g><g transform="translate(0.14 1.39)"><line x1="468.5" y1="301.6" x2="492" y2="301.6" stroke="#444" stroke-width="0.8" stroke-linecap="butt"/></g><g transform="translate(0.05 1.41)"><line x1="482.6" y1="299.8" x2="482.6" y2="327.8" stroke="#1e1e1e" stroke-width="1.05" stroke-linecap="butt" stroke-dasharray="3 2"/></g><g transform="translate(0.04 1.40)"><g transform="translate(472.7 318.3) scale(0.77 1)"><text x="0" y="0" font-size="10.9" font-weight="normal" font-style="normal" textLength="22.71" lengthAdjust="spacing" fill="#111" stroke="#111" stroke-width="0.15">REF</text></g></g><g transform="translate(-0.28 1.33)"><line x1="472.5" y1="327.8" x2="472.5" y2="384.2" stroke="#222" stroke-width="1" stroke-linecap="butt"/></g><g transform="translate(-0.31 1.39)"><line x1="480.3" y1="328" x2="480.3" y2="393.8" stroke="#1e1e1e" stroke-width="1.05" stroke-linecap="butt" stroke-dasharray="3 2"/></g><g transform="translate(-0.49 1.17)"><line x1="432" y1="384.2" x2="472.5" y2="384.2" stroke="#222" stroke-width="1" stroke-linecap="butt"/></g><g transform="translate(-0.57 1.02)"><line x1="432" y1="384.2" x2="432" y2="404.5" stroke="#222" stroke-width="1" stroke-linecap="butt"/></g><g transform="translate(-0.57 1.20)"><line x1="432" y1="393.8" x2="480.3" y2="393.8" stroke="#1e1e1e" stroke-width="1.05" stroke-linecap="butt" stroke-dasharray="3 2"/></g><g transform="translate(-0.56 1.22)"><rect x="446.8" y="384.2" width="24" height="18.3" rx="0" fill="none" stroke="#1e1e1e" stroke-width="1.05"/></g><g transform="translate(-0.57 1.22)"><g fill="none" stroke="#222" stroke-width="1"><circle cx="453.2" cy="389.3" r="2.4"/><circle cx="464.3" cy="389.3" r="2.4"/><circle cx="453.2" cy="397.6" r="2.4"/><circle cx="464.3" cy="397.6" r="2.4"/></g></g><g transform="translate(-0.45 0.26)"><rect x="331.8" y="359.2" width="3.8" height="37.8" fill="#000"/></g><g transform="translate(-0.81 0.27)"><rect x="332.9" y="397" width="3.1" height="56" fill="#333"/></g><g transform="translate(-0.38 0.13)"><line x1="302.4" y1="369.2" x2="332.4" y2="369.2" stroke="#111" stroke-width="1.3" stroke-linecap="butt"/></g><g transform="translate(-0.44 0.13)"><line x1="302.4" y1="377" x2="332.4" y2="377" stroke="#111" stroke-width="1.3" stroke-linecap="butt"/></g><g transform="translate(-0.50 0.13)"><line x1="302.4" y1="384.5" x2="332.4" y2="384.5" stroke="#111" stroke-width="1.3" stroke-linecap="butt"/></g><g transform="translate(-0.55 0.13)"><line x1="302.4" y1="392" x2="332.4" y2="392" stroke="#111" stroke-width="1.3" stroke-linecap="butt"/></g><g transform="translate(-0.61 0.12)"><line x1="302.4" y1="399" x2="328.05" y2="399" stroke="#111" stroke-width="1.3" stroke-linecap="butt"/></g><g transform="translate(-0.67 0.06)"><line x1="302.4" y1="406.5" x2="312.54" y2="406.5" stroke="#111" stroke-width="1.3" stroke-linecap="butt"/></g><g transform="translate(-0.69 0.21)"><line x1="322.68" y1="409.5" x2="333" y2="409.5" stroke="#111" stroke-width="1.3" stroke-linecap="butt"/></g><g transform="translate(-0.74 0.16)"><line x1="309.02" y1="416.5" x2="333" y2="416.5" stroke="#111" stroke-width="1.3" stroke-linecap="butt"/></g><g transform="translate(-0.80 0.14)"><line x1="302.4" y1="424.4" x2="333" y2="424.4" stroke="#111" stroke-width="1.3" stroke-linecap="butt"/></g><g transform="translate(-0.86 0.14)"><line x1="302.4" y1="431.2" x2="333" y2="431.2" stroke="#111" stroke-width="1.3" stroke-linecap="butt"/></g><g transform="translate(-0.91 0.14)"><line x1="302.4" y1="438.3" x2="333" y2="438.3" stroke="#111" stroke-width="1.3" stroke-linecap="butt"/></g><g transform="translate(-0.97 0.14)"><line x1="302.4" y1="445.6" x2="333" y2="445.6" stroke="#111" stroke-width="1.3" stroke-linecap="butt"/></g><g transform="translate(-0.64 0.15)"><line x1="302.4" y1="411.41" x2="336" y2="395.15" stroke="#111" stroke-width="1.1" stroke-linecap="butt"/></g><g transform="translate(-0.70 0.15)"><line x1="302.4" y1="419.89" x2="336" y2="402.67" stroke="#111" stroke-width="1.1" stroke-linecap="butt"/></g><g transform="translate(-0.65 0.14)"><path d="M 316.5 404.59 l 1.2 -2.4 l 0.8 3.2 l 1.2 -2.4" fill="none" stroke="#111" stroke-width="1.05"/></g><g transform="translate(-0.71 0.14)"><path d="M 316.5 412.67 l 1.2 -2.4 l 0.8 3.2 l 1.2 -2.4" fill="none" stroke="#111" stroke-width="1.05"/></g><g transform="translate(-1.08 0.17)"><rect x="302.6" y="452.9" width="39.1" height="15.4" rx="0" fill="none" stroke="#222" stroke-width="1"/></g><g transform="translate(-1.08 0.14)"><line x1="302.6" y1="460.5" x2="332.6" y2="460.5" stroke="#1e1e1e" stroke-width="1.05" stroke-linecap="butt"/></g><g transform="translate(-1.07 0.27)"><rect x="332.6" y="456.3" width="4.6" height="4.3" rx="0" fill="none" stroke="#222" stroke-width="1.05"/></g><g transform="translate(-0.41 0.13)"><line x1="316.4" y1="366" x2="316.4" y2="380" stroke="#222" stroke-width="1.05" stroke-linecap="butt"/></g><g transform="translate(-0.45 0.13)"><path d="M 312.8 376.8 Q 316.4 381.5 320 376.8" fill="none" stroke="#222" stroke-width="1.05"/></g><g transform="translate(-1.11 0.13)"><line x1="316.4" y1="457" x2="316.4" y2="472" stroke="#222" stroke-width="1.05" stroke-linecap="butt"/></g><g transform="translate(-1.06 0.13)"><path d="M 312.8 460.5 Q 316.4 455.5 320 460.5" fill="none" stroke="#222" stroke-width="1.05"/></g><g transform="translate(-0.31 0.13)"><g transform="translate(310.8 363.8) scale(0.8 1)"><text x="0" y="0" font-size="9.16" font-weight="normal" font-style="normal" textLength="14.62" lengthAdjust="spacing" fill="#111" stroke="#111" stroke-width="0.15">DN</text></g></g><g transform="translate(-1.22 0.13)"><g transform="translate(311.9 481.7) scale(0.64 1)"><text x="0" y="0" font-size="10.32" font-weight="normal" font-style="normal" textLength="14.93" lengthAdjust="spacing" fill="#111" stroke="#111" stroke-width="0.15">UP</text></g></g><g transform="translate(-2.05 -0.74)"><line x1="118.8" y1="586.5" x2="288" y2="586.5" stroke="#111" stroke-width="1.4" stroke-linecap="butt"/></g><g transform="translate(-2.07 -0.75)"><rect x="198.2" y="586.6" width="9.3" height="4" fill="#000"/></g><g transform="translate(-2.11 -1.46)"><rect x="102.8" y="592" width="16.2" height="3.6" rx="0" fill="#eee" stroke="#1e1e1e" stroke-width="0.8"/></g><g transform="translate(-2.11 -1.46)"><path d="M106 595.6 L108 592 M111 595.6 L113 592 M116 595.6 L118 592" stroke="#555" stroke-width="0.7"/></g><g transform="translate(-2.08 -0.03)"><rect x="288" y="588.5" width="15" height="4.5" rx="0" fill="#eee" stroke="#1e1e1e" stroke-width="0.8"/></g><g transform="translate(-2.09 -0.04)"><path d="M291 593 L293 588.5 M296 593 L298 588.5" stroke="#555" stroke-width="0.7"/></g><g transform="translate(-2.12 0.00)"><rect x="297.5" y="593" width="5.7" height="3.5" rx="0" fill="#eee" stroke="#1e1e1e" stroke-width="0.8"/></g><g transform="translate(-1.81 1.51)"><line x1="496.3" y1="515" x2="496.3" y2="594.4" stroke="#1a1a1a" stroke-width="1.2" stroke-linecap="butt"/></g><g transform="translate(-2.11 1.07)"><line x1="382" y1="594.4" x2="496.3" y2="594.4" stroke="#1a1a1a" stroke-width="1.2" stroke-linecap="butt"/></g><g transform="translate(-2.21 0.30)"><path d="M 296.6 596 V 611 Q 296.6 619 305 619 H 373 Q 381.2 619 381.2 611 V 609" fill="none" stroke="#222" stroke-width="1.1"/></g><g transform="translate(-2.23 0.31)"><line x1="310.4" y1="609.6" x2="369" y2="609.6" stroke="#222" stroke-width="1" stroke-linecap="butt"/></g><g transform="translate(-2.18 0.03)"><rect x="297" y="596" width="13.4" height="13.2" rx="0" fill="#ddd" stroke="#1e1e1e" stroke-width="1.1"/></g><g transform="translate(-2.18 0.03)"><circle cx="303.7" cy="602.6" r="4.8" fill="#000"/></g><g transform="translate(-2.12 0.58)"><rect x="369" y="582.5" width="13" height="26.7" rx="0" fill="#ddd" stroke="#1e1e1e" stroke-width="1.1"/></g><g transform="translate(-2.12 0.58)"><line x1="369" y1="595.8" x2="382" y2="595.8" stroke="#1e1e1e" stroke-width="1" stroke-linecap="butt"/></g><g transform="translate(-2.13 0.58)"><circle cx="375.5" cy="589.2" r="4.8" fill="#000"/><circle cx="375.5" cy="602.5" r="4.8" fill="#000"/></g><g transform="translate(-2.06 1.46)"><rect x="484" y="581.8" width="12.2" height="12.4" rx="0" fill="#ddd" stroke="#1e1e1e" stroke-width="1.1"/></g><g transform="translate(-2.06 1.46)"><circle cx="490.1" cy="588.0" r="4.6" fill="#000"/></g><g transform="translate(1.47 -0.96)"><g transform="translate(138.4 136.4) scale(0.82 1)"><text x="0" y="0" font-size="20.35" font-weight="normal" font-style="normal" textLength="89.27" lengthAdjust="spacing" fill="#111" stroke="#111" stroke-width="0.45">MASTER</text></g></g><g transform="translate(1.32 -0.97)"><g transform="translate(152 155) scale(0.72 1)"><text x="0" y="0" font-size="20.35" font-weight="normal" font-style="normal" textLength="62.42" lengthAdjust="spacing" fill="#111" stroke="#111" stroke-width="0.45">SUITE</text></g></g><g transform="translate(1.19 -0.96)"><g transform="translate(140 170) scale(0.8 1)"><text x="0" y="0" font-size="13.08" font-weight="normal" font-style="normal" textLength="87.5" lengthAdjust="spacing" fill="#111" stroke="#111" stroke-width="0.15">13'-6"x14'-3"</text></g></g><g transform="translate(1.10 -0.96)"><g transform="translate(140 181) scale(0.74 1)"><text x="0" y="0" font-size="11.63" font-weight="normal" font-style="normal" textLength="96.56" lengthAdjust="spacing" fill="#111" stroke="#111" stroke-width="0.15">16' SLOPED CLG</text></g></g><g transform="translate(1.25 0.12)"><g transform="translate(267.3 165.3) scale(0.82 1)"><text x="0" y="0" font-size="20.35" font-weight="normal" font-style="normal" textLength="117.68" lengthAdjust="spacing" fill="#111" stroke="#111" stroke-width="0.45">GREAT RM</text></g></g><g transform="translate(1.11 0.12)"><g transform="translate(279.3 180.5) scale(0.8 1)"><text x="0" y="0" font-size="12.65" font-weight="normal" font-style="normal" textLength="90.62" lengthAdjust="spacing" fill="#111" stroke="#111" stroke-width="0.15">15'-8"x18'-0"</text></g></g><g transform="translate(1.01 0.12)"><g transform="translate(279.3 192.4) scale(0.79 1)"><text x="0" y="0" font-size="11.05" font-weight="normal" font-style="normal" textLength="91.73" lengthAdjust="spacing" fill="#111" stroke="#111" stroke-width="0.15">16' SLOPED CLG</text></g></g><g transform="translate(1.57 1.12)"><g transform="translate(415 123.8) scale(0.76 1)"><text x="0" y="0" font-size="21.8" font-weight="normal" font-style="normal" textLength="82.02" lengthAdjust="spacing" fill="#111" stroke="#111" stroke-width="0.45">PORCH</text></g></g><g transform="translate(1.44 1.13)"><g transform="translate(412.5 137.5) scale(0.8 1)"><text x="0" y="0" font-size="12.65" font-weight="normal" font-style="normal" textLength="84.38" lengthAdjust="spacing" fill="#111" stroke="#111" stroke-width="0.15">10'-0"x7'-4"</text></g></g><g transform="translate(0.85 1.09)"><g transform="translate(407.4 216.6) scale(0.82 1)"><text x="0" y="0" font-size="20.06" font-weight="normal" font-style="normal" textLength="83.9" lengthAdjust="spacing" fill="#111" stroke="#111" stroke-width="0.45">BRKFST</text></g></g><g transform="translate(0.72 1.10)"><g transform="translate(402.8 231.3) scale(0.8 1)"><text x="0" y="0" font-size="13.52" font-weight="normal" font-style="normal" textLength="98.62" lengthAdjust="spacing" fill="#111" stroke="#111" stroke-width="0.15">10'-0"x10'-10"</text></g></g><g transform="translate(-0.16 1.04)"><g transform="translate(397.3 348) scale(0.82 1)"><text x="0" y="0" font-size="19.33" font-weight="normal" font-style="normal" textLength="91.1" lengthAdjust="spacing" fill="#111" stroke="#111" stroke-width="0.45">KITCHEN</text></g></g><g transform="translate(-0.30 1.04)"><g transform="translate(396.5 362.7) scale(0.8 1)"><text x="0" y="0" font-size="11.63" font-weight="normal" font-style="normal" textLength="95" lengthAdjust="spacing" fill="#111" stroke="#111" stroke-width="0.15">11'-10"x12'-10"</text></g></g><g transform="translate(0.07 -0.89)"><g transform="translate(169.2 318.3) scale(0.72 1)"><text x="0" y="0" font-size="20.49" font-weight="normal" font-style="normal" textLength="41.5" lengthAdjust="spacing" fill="#111" stroke="#111" stroke-width="0.5">WIC</text></g></g><g transform="translate(-1.06 -0.70)"><g transform="translate(170 465.3) scale(0.82 1)"><text x="0" y="0" font-size="21.22" font-weight="normal" font-style="normal" textLength="94.58" lengthAdjust="spacing" fill="#111" stroke="#111" stroke-width="0.45">GARAGE</text></g></g><g transform="translate(-1.20 -0.70)"><g transform="translate(170 480.5) scale(0.8 1)"><text x="0" y="0" font-size="14.24" font-weight="normal" font-style="normal" textLength="96.25" lengthAdjust="spacing" fill="#111" stroke="#111" stroke-width="0.15">19'-8"x22'-6"</text></g></g><g transform="translate(-0.94 1.09)"><g transform="translate(412 449.2) scale(0.8 1)"><text x="0" y="0" font-size="20.2" font-weight="normal" font-style="normal" textLength="73.66" lengthAdjust="spacing" fill="#111" stroke="#111" stroke-width="0.45">DINING</text></g></g><g transform="translate(-1.07 1.08)"><g transform="translate(404 463.9) scale(0.8 1)"><text x="0" y="0" font-size="14.53" font-weight="normal" font-style="normal" textLength="91.63" lengthAdjust="spacing" fill="#111" stroke="#111" stroke-width="0.15">10'-9"x10'-6"</text></g></g><g transform="translate(-1.76 0.74)"><g transform="translate(365.3 556) scale(0.76 1)"><text x="0" y="0" font-size="21.37" font-weight="normal" font-style="normal" textLength="80.38" lengthAdjust="spacing" fill="#111" stroke="#111" stroke-width="0.45">PORCH</text></g></g></g></svg></body></html>
